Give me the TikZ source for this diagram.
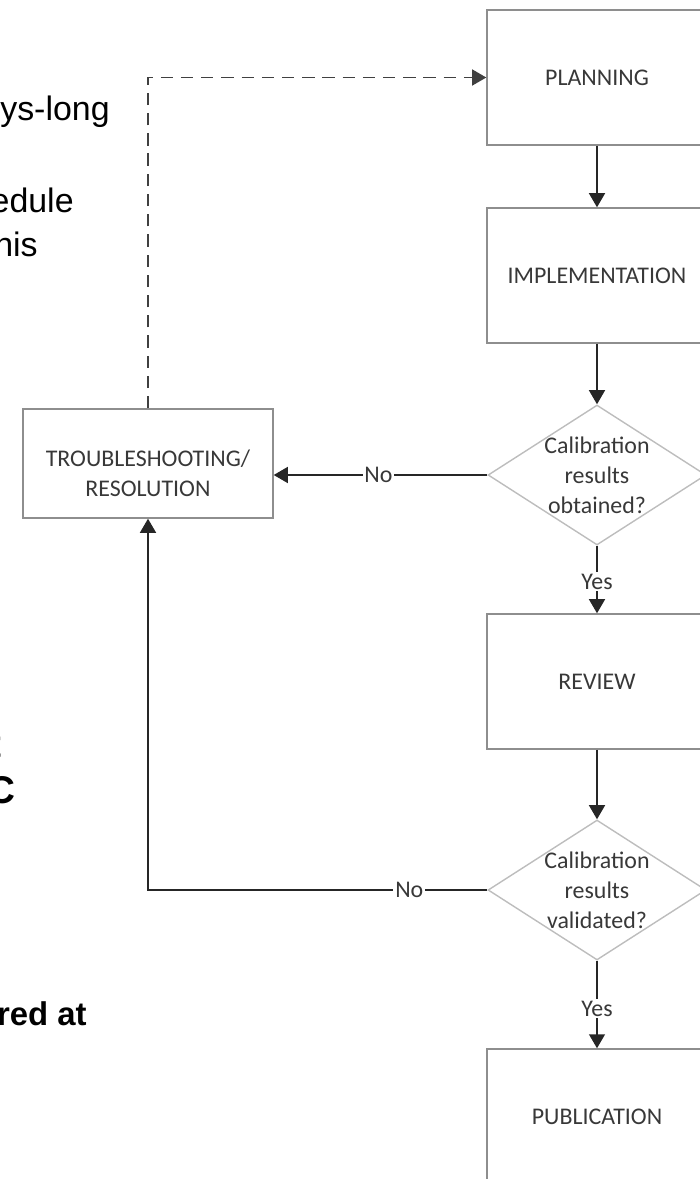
\documentclass[tikz,border=0pt]{standalone}
\usepackage{fontspec}
\setmainfont{Carlito}
\newfontfamily\arial{Liberation Sans}
\usepackage{tikz}
\usetikzlibrary{positioning,arrows.meta,calc,shapes.geometric}
\usepackage{xcolor}
\definecolor{boxgray}{HTML}{8E8E8E}
\definecolor{dgray}{HTML}{BDBDBD}
\definecolor{txtgray}{HTML}{383838}

\begin{document}
\begin{tikzpicture}[>={Triangle[length=8pt,width=9pt]},
  stepbox/.style={draw=boxgray,line width=0.8pt,minimum width=4.4cm,minimum height=2.7cm,inner sep=0pt,text=txtgray},
  decision/.style={draw=dgray,line width=0.8pt,shape=diamond,minimum width=4.36cm,minimum height=2.8cm,inner sep=0pt},
  qtext/.style={align=center,text=txtgray,font=\fontsize{13.6}{17}\selectfont,inner sep=0pt},
  lbl/.style={fill=white,text=txtgray,inner sep=1pt,font=\fontsize{13.6}{16}\selectfont},
  arr/.style={->,line width=1.1pt,draw=black!85},
  frag/.style={inner sep=0pt,anchor=base east,font=\arial\fontsize{19.3}{23}\selectfont},
  fragb/.style={frag,font=\arial\bfseries\fontsize{22}{26}\selectfont}]
\useasboundingbox (0,0) rectangle (14,-23.58);
\tikzset{every node/.append style={font=\fontsize{13.6}{17}\selectfont}}
% main column
\node[stepbox] (plan) at (11.94,-1.55) {PLANNING};
\node[stepbox] (impl) at (11.94,-5.51) {IMPLEMENTATION};
\node[decision,label={[qtext]center:{Calibration\\results\\obtained?}}] (obt) at (11.94,-9.5) {};
\node[stepbox] (rev) at (11.94,-13.63) {REVIEW};
\node[decision,label={[qtext]center:{Calibration\\results\\validated?}}] (val) at (11.94,-17.8) {};
\node[stepbox] (pub) at (11.94,-22.33) {PUBLICATION};
% side box
\node[stepbox,minimum width=5cm,minimum height=2.18cm,label={[qtext,yshift=-0.2cm]center:{TROUBLESHOOTING/\\RESOLUTION}}] (trb) at (2.96,-9.27) {};
% connectors
\draw[arr] (plan) -- (impl);
\draw[arr] (impl) -- (obt);
\draw[arr] (obt.south) -- node[lbl,pos=0.53]{Yes} (rev.north);
\draw[arr] (rev) -- (val);
\draw[arr] (val.south) -- node[lbl,pos=0.55]{Yes} (pub.north);
\draw[arr] (obt.west) -- node[lbl,pos=0.51]{No} (obt.west -| trb.east);
\draw[arr] (val.west) -- node[lbl,pos=0.23]{No} (trb.south |- val.west) -- (trb.south);
\draw[arr,draw=black!75,dash pattern=on 7pt off 4.5pt] (trb.north) -- (trb.north |- plan.west) -- (plan.west);
% cut-off page text on the left
\node[frag] (txtA) at (2.2,-2.4) {ys-long};
\node[frag] (txtB) at (1.48,-4.24) {edule};
\node[frag] (txtC) at (0.76,-5.12) {his};
\node[fragb] (txtD) at (0.04,-15.14) {t};
\node[fragb] (txtE) at (0.32,-16.06) {C};
\node[frag,font=\arial\bfseries\fontsize{18.7}{22}\selectfont] (txtF) at (1.74,-20.5) {red at};
\end{tikzpicture}
\end{document}
